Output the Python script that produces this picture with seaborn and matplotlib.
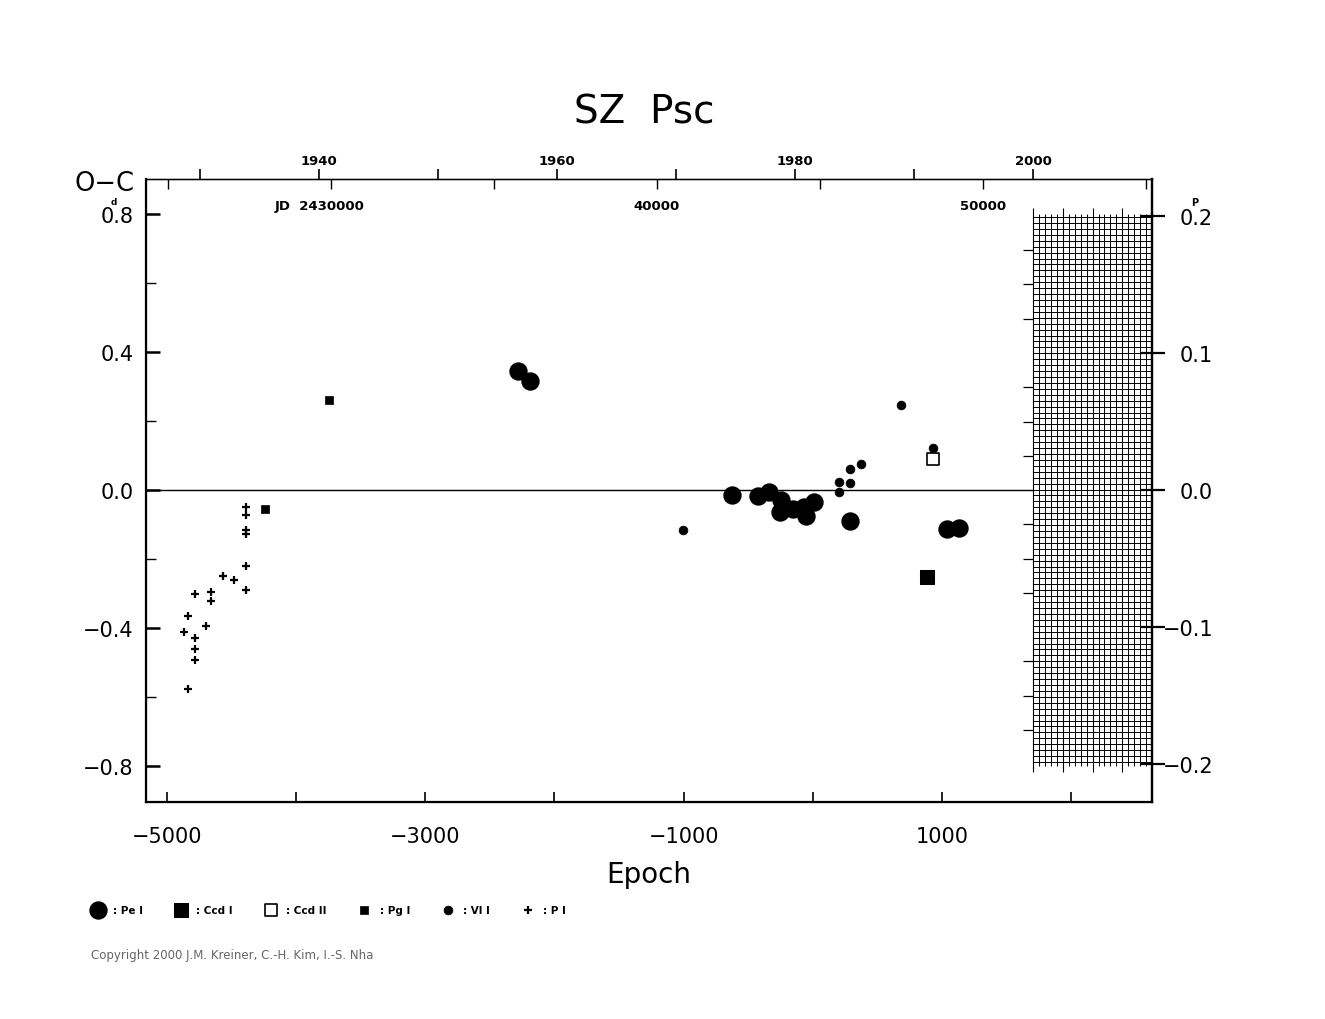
"""
O-C diagram of SZ Psc (epoch vs O-C in days, period on the right).
"""
import numpy as np
import matplotlib
matplotlib.use('Agg')
import matplotlib.pyplot as plt
from matplotlib.ticker import MultipleLocator, FixedLocator, FuncFormatter
import seaborn as sns

# ephemeris used for the secondary axes
period = 3.9658
t0 = 2444786.0

# observations: epoch and O-C (days)
pe_epoch = [-2285, -2190, -629, -428, -338, -248, -255, -157, -70, -54, 10,
            286, 1034, 1130]
pe_oc = [0.343, 0.315, -0.014, -0.016, -0.007, -0.029, -0.065, -0.055,
         -0.050, -0.074, -0.034, -0.089, -0.113, -0.111]
ccd1_epoch = [885]
ccd1_oc = [-0.253]
ccd2_epoch = [926]
ccd2_oc = [0.090]
pg_epoch = [-4240, -3745]
pg_oc = [-0.055, 0.261]
vi_epoch = [-1003, 201, 201, 286, 289, 374, 678, 931]
vi_oc = [-0.115, 0.024, -0.007, 0.061, 0.019, 0.074, 0.247, 0.123]
p_epoch = [-4387, -4387, -4387, -4387, -4387, -4387, -4567, -4480, -4660,
           -4660, -4779, -4836, -4696, -4867, -4784, -4784, -4784, -4836]
p_oc = [-0.049, -0.071, -0.116, -0.127, -0.220, -0.289, -0.248, -0.260,
        -0.296, -0.320, -0.302, -0.364, -0.394, -0.410, -0.429, -0.460,
        -0.492, -0.576]

year_ticks = [1930, 1940, 1950, 1960, 1970, 1980, 1990, 2000]
year_labels = ['', '1940', '', '1960', '', '1980', '', '2000']
jd_ticks = [25000, 30000, 35000, 40000, 45000, 50000, 55000]
jd_labels = ['', 'JD  2430000     ', '', '40000', '', '50000', '']

sns.set_style('ticks')
plt.rcParams['font.family'] = ['DejaVu Sans']
for key in ['text.color', 'axes.labelcolor', 'xtick.color', 'ytick.color',
            'axes.edgecolor']:
    plt.rcParams[key] = 'black'


def epoch_to_jd(e):
    return t0 + np.asarray(e) * period - 2400000


def jd_to_epoch(j):
    return (np.asarray(j) + 2400000 - t0) / period


def epoch_to_year(e):
    return 2000 + (t0 + np.asarray(e) * period - 2451545) / 365.25


def year_to_epoch(y):
    return ((np.asarray(y) - 2000) * 365.25 + 2451545 - t0) / period


fig = plt.figure(figsize=(13.25, 10.2), dpi=100)
ax = fig.add_axes([0.1102, 0.2127, 0.7592, 0.6108])
xmin, xmax = -5160, 2623
ax.set_xlim(xmin, xmax)
ax.set_ylim(-0.903, 0.9)

# future region drawn as graph paper
e2000 = float(year_to_epoch(2000))
gx = np.linspace(e2000, xmax, 21)
gy = np.linspace(-0.787, 0.79, 93)
ax.hlines(gy, e2000, xmax, color='black', lw=0.7)
ax.vlines(gx, -0.80, 0.80, color='black', lw=0.7)
ax.vlines(gx[::5], -0.815, 0.815, color='black', lw=0.8)
ax.hlines(0, xmin, e2000, color='black', lw=1.0)

sns.scatterplot(x=pe_epoch, y=pe_oc, marker='o', s=150, color='black',
                edgecolor='black', label=': Pe I', ax=ax, zorder=3)
sns.scatterplot(x=ccd1_epoch, y=ccd1_oc, marker='s', s=90, color='black',
                edgecolor='black', label=': Ccd I', ax=ax, zorder=3)
sns.scatterplot(x=ccd2_epoch, y=ccd2_oc, marker='s', s=75, color='white',
                edgecolor='black', linewidth=1.2, label=': Ccd II', ax=ax,
                zorder=3)
sns.scatterplot(x=pg_epoch, y=pg_oc, marker='s', s=40, color='black',
                edgecolor='black', label=': Pg I', ax=ax, zorder=3)
sns.scatterplot(x=vi_epoch, y=vi_oc, marker='o', s=40, color='black',
                edgecolor='black', label=': Vl I', ax=ax, zorder=3)
sns.scatterplot(x=p_epoch, y=p_oc, marker='+', s=40, color='black',
                linewidth=1.6, label=': P I', ax=ax, zorder=3)

handles, labels = ax.get_legend_handles_labels()
ax.get_legend().remove()
fig.legend(handles, labels, loc='center left',
           bbox_to_anchor=(82 / 1325, 1 - 911 / 1020), ncol=6, frameon=False,
           prop={'size': 7.5, 'weight': 'bold'}, handlelength=1.2,
           handletextpad=0.9, columnspacing=3.0)

# left / bottom axes
ax.xaxis.set_major_locator(MultipleLocator(1000))
ax.xaxis.set_major_formatter(FuncFormatter(
    lambda v, pos: f'{v:.0f}'.replace('-', '\u2212')
    if round(v) % 2000 != 0 else ''))
ax.yaxis.set_major_locator(MultipleLocator(0.4))
ax.yaxis.set_minor_locator(MultipleLocator(0.2))
ax.tick_params(axis='x', which='major', direction='in', length=7, width=1.2,
               labelsize=15, pad=17, top=False)
ax.tick_params(axis='y', which='major', direction='in', length=10, width=1.8,
               labelsize=15, pad=9, right=False)
ax.tick_params(axis='y', which='minor', direction='in', length=7, width=1.0,
               right=False)
ax.set_xlabel('Epoch', fontsize=20, labelpad=10)
for side in ['left', 'bottom', 'right']:
    ax.spines[side].set_linewidth(1.6)
ax.spines['top'].set_linewidth(1.0)

# right axis in units of the period
ax2 = ax.twinx()
lo, hi = ax.get_ylim()
ax2.set_ylim(lo / period, hi / period)
ax2.yaxis.set_major_locator(MultipleLocator(0.1))
ax2.tick_params(axis='y', direction='inout', length=18, width=1.6,
                labelsize=15, pad=35)
for lbl in ax2.get_yticklabels():
    lbl.set_horizontalalignment('right')
ax2.spines['right'].set_linewidth(1.6)
minor_p = [k * 0.025 for k in range(-7, 8) if k % 4 != 0]
ax.hlines(np.array(minor_p) * period, e2000 - 80, e2000, color='black', lw=0.9)

# top axes: calendar years and Julian dates
sec_year = ax.secondary_xaxis('top', functions=(epoch_to_year, year_to_epoch))
sec_year.xaxis.set_major_locator(FixedLocator(year_ticks))
sec_year.set_xticklabels(year_labels)
sec_year.tick_params(direction='out', length=7, width=1.2, labelsize=9.5,
                     pad=2)
for lbl in sec_year.get_xticklabels():
    lbl.set_fontweight('bold')

sec_jd = ax.secondary_xaxis('top', functions=(epoch_to_jd, jd_to_epoch))
sec_jd.xaxis.set_major_locator(FixedLocator(jd_ticks))
sec_jd.set_xticklabels(jd_labels)
sec_jd.tick_params(direction='in', length=7, width=1.0, labelsize=9.5,
                   pad=-24)
for lbl in sec_jd.get_xticklabels():
    lbl.set_fontweight('bold')
sec_jd.spines['top'].set_visible(False)

# unit marks and titles
ax.annotate('d', xy=(0, 0.8), xycoords=ax.get_yaxis_transform(),
            xytext=(-23, 8.5), textcoords='offset points', fontsize=6.5,
            fontweight='bold', ha='center', va='center')
ax2.annotate('P', xy=(1, 0.2), xycoords=ax2.get_yaxis_transform(),
             xytext=(31, 10), textcoords='offset points', fontsize=7,
             fontweight='bold', ha='center', va='center')
fig.text(105 / 1325, 1 - 184 / 1020, 'O\u2212C', fontsize=18.5, ha='center',
         va='center')
fig.suptitle('SZ  Psc', x=644 / 1325, y=1 - 112 / 1020, fontsize=28,
             va='center')
fig.text(91 / 1325, 1 - 956 / 1020, 'Copyright 2000 J.M. Kreiner, C.-H. Kim, I.-S. Nha',
         fontsize=8.5, color='#666666', va='center')

fig.savefig('out.png', dpi=100)
